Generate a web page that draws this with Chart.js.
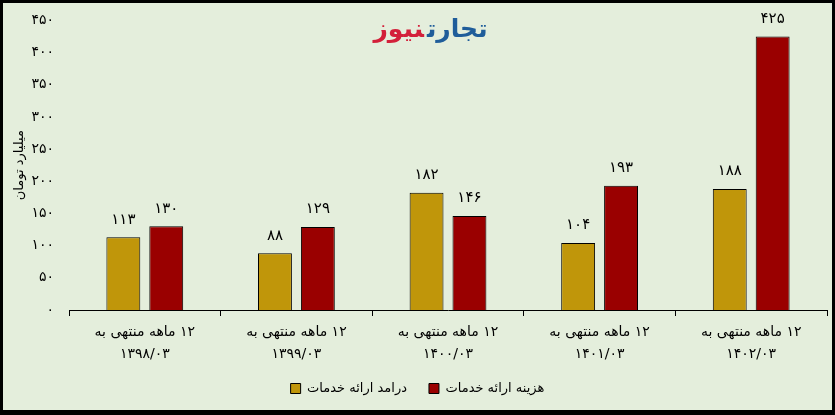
<!DOCTYPE html>
<html>
<head>
<meta charset="utf-8">
<script src="https://cdn.jsdelivr.net/npm/chart.js@4/dist/chart.umd.min.js"></script>
<style>
  html, body { margin:0; padding:0; background:#000; }
  #wrap { position:absolute; left:3px; top:3px; width:829px; height:407px; background:#e4eedc; overflow:hidden; }
  #c { direction: rtl; position:absolute; left:0; top:-6px; }
  #logo { position:absolute; left:13px; width:829px; top:11px; text-align:center; font-family:"DejaVu Sans"; font-weight:bold; font-size:25px; direction:rtl; }
  #logo .a { color:#1f5d9a; }
  #logo .b { color:#d3203a; margin-right:3px; }
</style>
</head>
<body>
<div id="wrap">
  <canvas id="c" width="829" height="413"></canvas>
  <div id="logo"><span class="a">تجارت</span><span class="b">نیوز</span></div>
</div>
<script>
const categoryLine1 = ['۱۲ ماهه منتهی به','۱۲ ماهه منتهی به','۱۲ ماهه منتهی به','۱۲ ماهه منتهی به','۱۲ ماهه منتهی به'];
const categoryLine2 = ['۱۳۹۸/۰۳','۱۳۹۹/۰۳','۱۴۰۰/۰۳','۱۴۰۱/۰۳','۱۴۰۲/۰۳'];
const revenue = [113, 88, 182, 104, 188];
const cost = [130, 129, 146, 193, 425];
const seriesNames = ['درامد ارائه خدمات','هزینه ارائه خدمات'];
const yTitle = 'میلیارد تومان';
const yMax = 450, yStep = 50;

const faDigits = '۰۱۲۳۴۵۶۷۸۹';
const toFa = v => String(v).replace(/[0-9]/g, d => faDigits[+d]);

const valueLabels = {
  id: 'valueLabels',
  afterDatasetsDraw(chart) {
    const ctx = chart.ctx;
    ctx.save();
    ctx.font = '15px "DejaVu Sans"';
    ctx.fillStyle = '#000';
    ctx.textAlign = 'center';
    ctx.textBaseline = 'bottom';
    chart.data.datasets.forEach((ds, i) => {
      chart.getDatasetMeta(i).data.forEach((el, j) => {
        ctx.fillText(toFa(ds.data[j]), el.x, el.y - 10);
      });
    });
    ctx.restore();
  }
};

new Chart(document.getElementById('c'), {
  type: 'bar',
  data: {
    labels: categoryLine1.map((l, i) => [l, categoryLine2[i]]),
    datasets: [
      { label: seriesNames[0], data: revenue, backgroundColor: '#c0960a', borderColor: '#000', borderWidth: 1 },
      { label: seriesNames[1], data: cost, backgroundColor: '#9a0000', borderColor: '#000', borderWidth: 1 }
    ]
  },
  options: {
    responsive: false,
    animation: false,
    categoryPercentage: 0.566,
    barPercentage: 0.79,
    layout: { padding: { left: 5, right: 5, top: 1, bottom: 5 } },
    plugins: {
      legend: {
        position: 'bottom',
        labels: { boxWidth: 10, boxHeight: 10, color: '#000', font: { family: 'DejaVu Sans', size: 13 }, padding: 22 }
      },
      tooltip: { enabled: false }
    },
    scales: {
      x: {
        grid: { display: true, offset: true, drawOnChartArea: false, color: '#000', tickLength: 6 },
        border: { display: true, color: '#000' },
        ticks: { color: '#000', font: { family: 'DejaVu Sans', size: 14, lineHeight: 1.55 }, maxRotation: 0, padding: 6 },
        afterFit: s => { s.height = 50; }
      },
      y: {
        min: 0, max: yMax,
        grid: { display: false, drawTicks: false },
        border: { display: false },
        ticks: { stepSize: yStep, color: '#000', font: { family: 'DejaVu Sans', size: 14 }, padding: 15, callback: v => toFa(v) },
        title: { display: true, text: yTitle, color: '#000', font: { family: 'DejaVu Sans', size: 13 } },
        afterFit: s => { s.width = 61; }
      }
    }
  },
  plugins: [valueLabels]
});
</script>
</body>
</html>
